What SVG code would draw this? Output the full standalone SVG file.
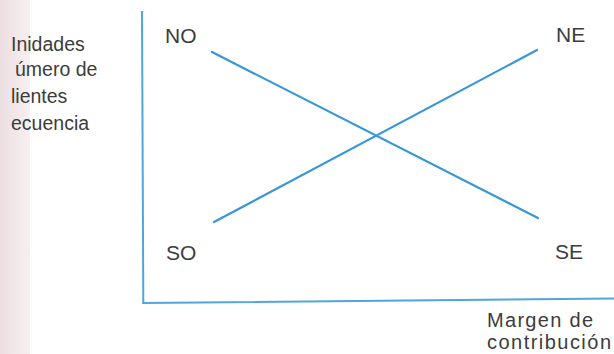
<svg xmlns="http://www.w3.org/2000/svg" width="614" height="354" viewBox="0 0 614 354">
  <defs>
    <linearGradient id="strip" x1="0" y1="0" x2="1" y2="0">
      <stop offset="0" stop-color="#eddfe2"/>
      <stop offset="1" stop-color="#f6eff0"/>
    </linearGradient>
    <style>
      .lbl { font-family: "Liberation Sans", Arial, Helvetica, sans-serif; fill: #3c3c3c; }
      .q { font-size: 21px; }
      .ax { font-size: 19.5px; }
      .bt { font-size: 20px; }
      .axis { stroke: #4fa6dc; stroke-width: 2; fill: none; stroke-linecap: square; }
      .diag { stroke: #3797d4; stroke-width: 2.2; fill: none; stroke-linecap: round; }
    </style>
  </defs>
  <rect x="0" y="0" width="614" height="354" fill="#ffffff"/>
  <rect x="0" y="0" width="30" height="354" fill="url(#strip)"/>

  <g id="y-axis-label">
    <text class="lbl ax" x="11" y="51">Inidades</text>
    <text class="lbl ax" x="15" y="76">úmero de</text>
    <text class="lbl ax" x="11" y="103">lientes</text>
    <text class="lbl ax" x="11" y="130">ecuencia</text>
  </g>

  <g id="axes">
    <line class="axis" x1="142" y1="12" x2="143.3" y2="303"/>
    <line class="axis" x1="143.3" y1="303" x2="614" y2="298.5"/>
  </g>

  <g id="connectors">
    <line class="diag" x1="212" y1="52" x2="538" y2="218"/>
    <line class="diag" x1="214" y1="222" x2="537" y2="50"/>
  </g>

  <g id="node-NO"><text class="lbl q" x="165" y="43">NO</text></g>
  <g id="node-NE"><text class="lbl q" x="556" y="42">NE</text></g>
  <g id="node-SO"><text class="lbl q" x="166" y="260">SO</text></g>
  <g id="node-SE"><text class="lbl q" x="555" y="259">SE</text></g>

  <g id="x-axis-label">
    <text class="lbl bt" x="487" y="327" textLength="106" lengthAdjust="spacing">Margen de</text>
    <text class="lbl bt" x="487" y="349" textLength="124" lengthAdjust="spacing">contribución</text>
  </g>
</svg>
